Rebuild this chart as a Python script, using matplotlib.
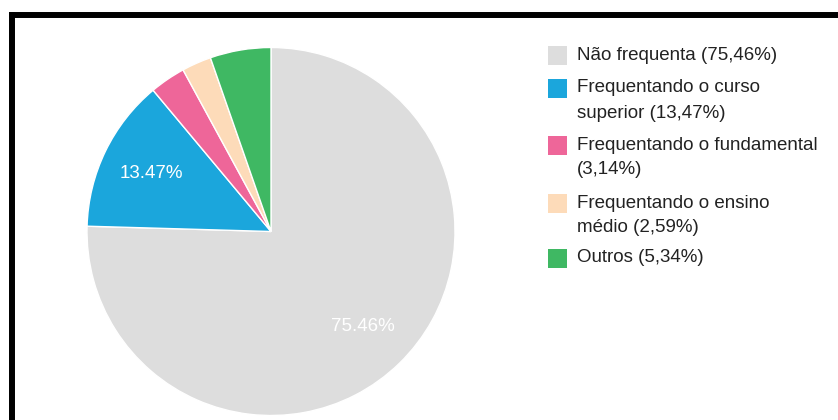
import matplotlib
matplotlib.use("Agg")
import matplotlib.pyplot as plt
from matplotlib.patches import Rectangle
from matplotlib.lines import Line2D

categories = ["Não frequenta", "Frequentando o curso superior", "Frequentando o fundamental",
              "Frequentando o ensino médio", "Outros"]
values = [75.46, 13.47, 3.14, 2.59, 5.34]
colors = ["#dddddd", "#1ba6dc", "#ee6699", "#fddbb9", "#3fb863"]
legend_lines = [
    ["Não frequenta (75,46%)"],
    ["Frequentando o curso", "superior (13,47%)"],
    ["Frequentando o fundamental", "(3,14%)"],
    ["Frequentando o ensino", "médio (2,59%)"],
    ["Outros (5,34%)"],
]

plt.rcParams['font.family'] = ['Liberation Sans', 'DejaVu Sans']

W, H = 838, 420
fig = plt.figure(figsize=(W / 100, H / 100), dpi=100)
ax = fig.add_axes([0, 0, 1, 1])

cx, cy, r = 271, H - 231.5, 184
total = sum(values)
wedges, texts = ax.pie(values, colors=colors, startangle=90, counterclock=False,
                       center=(cx, cy), radius=r,
                       wedgeprops=dict(edgecolor="white", linewidth=1.0),
                       labels=[f"{v:.2f}%" if v / total > 0.06 else "" for v in values],
                       labeldistance=0.72,
                       textprops=dict(color="white", fontsize=13.5, ha="center", va="center"))
for t in texts:
    t.set_horizontalalignment("center")
    t.set_verticalalignment("center")

ax.set_xlim(0, W)
ax.set_ylim(0, H)
ax.set_aspect("equal")
ax.axis("off")

# legend
first_y = [55, 88, 145, 203, 258]
sq = 19
for i, lines in enumerate(legend_lines):
    y0 = H - first_y[i]
    ax.add_patch(Rectangle((548, y0 - sq / 2), sq, sq, facecolor=colors[i], edgecolor="none"))
    for j, ln in enumerate(lines):
        ax.text(577, y0 - j * 25, ln, fontsize=13.5, color="#222222", ha="left", va="center")

# border (top and left)
fig.add_artist(Line2D([9 / W, 1], [1 - 15 / H, 1 - 15 / H], color="black", linewidth=4.3,
                      transform=fig.transFigure, solid_capstyle="butt"))
fig.add_artist(Line2D([12 / W, 12 / W], [0, 1 - 12 / H], color="black", linewidth=4.3,
                      transform=fig.transFigure, solid_capstyle="butt"))

fig.savefig("out.png", dpi=100)
